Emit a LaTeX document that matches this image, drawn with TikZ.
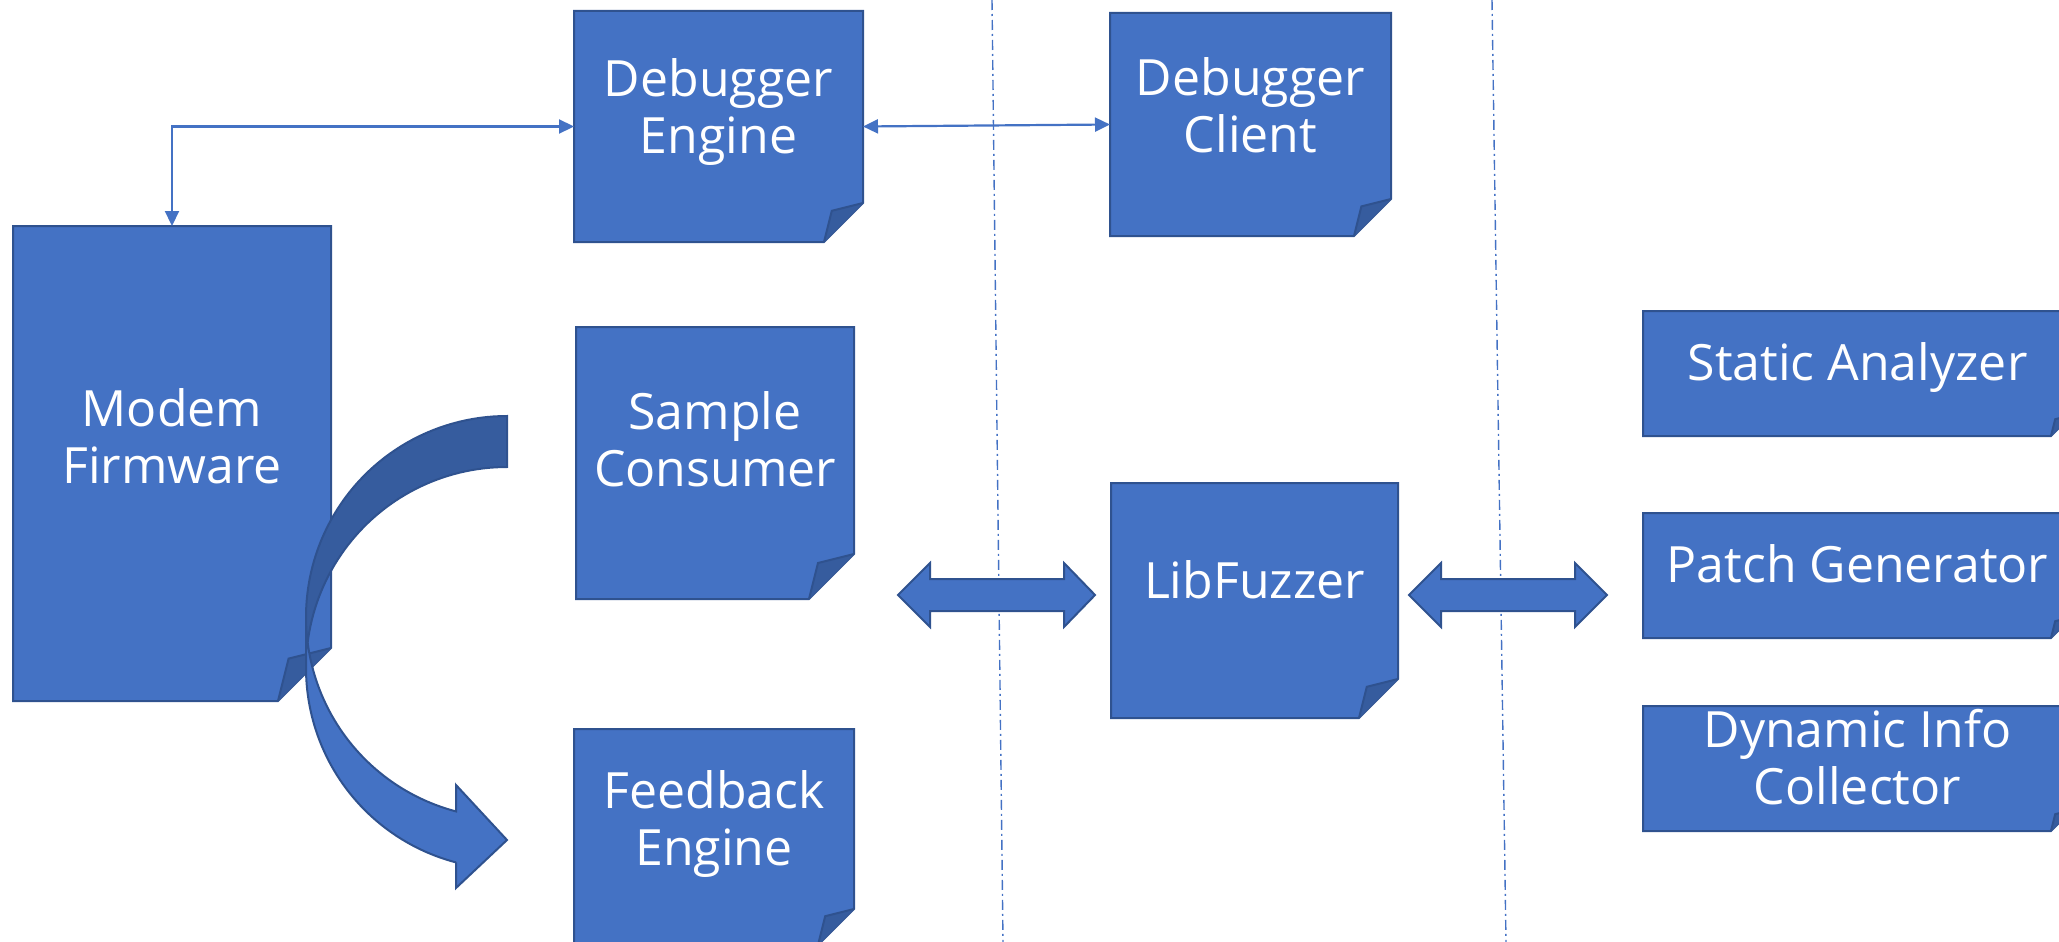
\documentclass[tikz,border=0pt]{standalone}
\usepackage{fontspec}
\setmainfont{Open Sans}
\usetikzlibrary{arrows.meta}

\definecolor{boxfill}{HTML}{4472C4}
\definecolor{boxedge}{HTML}{2F528F}
\definecolor{folddark}{HTML}{365C9E}

% struts that put the cap band of a label at the node centre
\newcommand\capstruttop{\rule{0pt}{48pt}}
\newcommand\capstrutbot{\rule[-12.3pt]{0pt}{12.3pt}}

\tikzset{
  boxline/.style={draw=boxedge, line width=2pt, line join=miter},
  boxtext/.style={text=white, align=center, inner sep=0pt,
    font=\fontsize{50}{57}\selectfont},
  anchorbox/.style={inner sep=0pt, outer sep=0pt, draw=none},
  conn/.style={draw=boxfill, line width=2.2pt,
    {Triangle[length=15pt,width=14pt]}-{Triangle[length=15pt,width=14pt]}},
  divider/.style={draw=boxfill, line width=1.4pt,
    dash pattern=on 10pt off 4pt on 2pt off 4pt},
  blockarrow/.style={boxline, fill=boxfill},
}

% folded-corner note: name, left, top, right, bottom, fold size, label
\newcommand\foldnote[7]{%
  \node[anchorbox, minimum width={#4-#2}, minimum height={#5-#3}]
    (#1) at ({(#2+#4)/2},{(#3+#5)/2}) {};
  \draw[boxline, fill=boxfill] (#2,#3) -- (#4,#3) -- (#4,{#5-#6})
    -- ({#4-#6},#5) -- (#2,#5) -- cycle;
  \fill[folddark] ({#4-#6},#5) -- ({#4-0.8*#6},{#5-0.8*#6}) -- (#4,{#5-#6}) -- cycle;
  \draw[boxline] ({#4-#6},#5) -- ({#4-0.8*#6},{#5-0.8*#6}) -- (#4,{#5-#6});
  \node[boxtext] (#1-label) at ({(#2+#4)/2},{(#3+#5-#6)/2})
    {\capstruttop #7\capstrutbot};
}

\begin{document}
\begin{tikzpicture}[x=1pt, y=-1pt]
\useasboundingbox (0,0) rectangle (2059,942);
\clip (0,0) rectangle (2059,942);

% dash-dot separators between the three zones
\draw[divider] (992,0) -- (1003,942);
\draw[divider] (1492,0) -- (1506,942);

% component notes
\foldnote{mf}{13}{226}{331}{701}{53}{Modem\\Firmware}
\foldnote{de}{574}{11}{863}{242}{39}{Debugger\\Engine}
\foldnote{dc}{1110}{13}{1391}{236}{37}{Debugger\\Client}
\foldnote{sc}{576}{327}{854}{599}{45}{Sample\\Consumer}
\foldnote{fe}{574}{729}{854}{945}{36}{Feedback\\Engine}
\foldnote{lf}{1111}{483}{1398}{718}{39}{LibFuzzer}
\foldnote{sa}{1643}{311}{2072}{436}{21}{Static Analyzer}
\foldnote{pg}{1643}{513}{2072}{638}{21}{Patch Generator}
\foldnote{dic}{1643}{706}{2072}{831}{21}{Dynamic Info\\Collector}

% debugger links
\draw[conn] (de.west) -| (mf.north);
\draw[conn] (de.east) -- (dc.west);

% wide two-way arrows around LibFuzzer
\draw[blockarrow] (898,595) -- (930,563) -- (930,579) -- (1064,579) -- (1064,563)
  -- (1095,595) -- (1064,627) -- (1064,611) -- (930,611) -- (930,627) -- cycle;
\draw[blockarrow] (1409,595) -- (1441,563) -- (1441,579) -- (1575,579) -- (1575,563)
  -- (1607,595) -- (1575,627) -- (1575,611) -- (1441,611) -- (1441,627) -- cycle;

% curved ribbon arrow from the sample side to the feedback side
\draw[boxline, fill=boxfill] (306,617)
  -- plot[domain=180:104.7, samples=50] ({507+201*cos(\x)},{617+201*sin(\x)})
  -- (456,785) -- (507,840) -- (456,888) -- (456,862.4)
  -- plot[domain=104.7:180, samples=50] ({507+201*cos(\x)},{668+201*sin(\x)})
  -- cycle;
\draw[boxline, fill=folddark] (507,416)
  -- plot[domain=270:172.7, samples=50] ({507+201*cos(\x)},{617+201*sin(\x)})
  -- plot[domain=187.3:270, samples=50] ({507+201*cos(\x)},{668+201*sin(\x)})
  -- cycle;
\end{tikzpicture}
\end{document}
